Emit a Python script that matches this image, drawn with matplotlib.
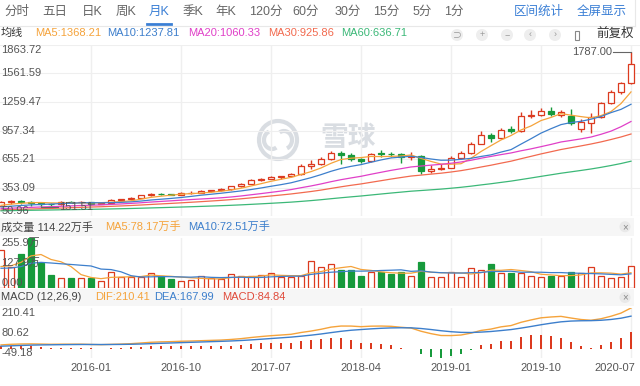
import matplotlib
matplotlib.use('Agg')
import matplotlib.pyplot as plt
import matplotlib.transforms as mtransforms
from matplotlib.patches import Rectangle, Circle, Arc
import numpy as np
import pandas as pd

plt.rcParams['font.family'] = ['Liberation Sans', 'Noto Sans CJK SC', 'DejaVu Sans']

# ---------------------------------------------------------------------------
# Data: monthly K line, forward adjusted (前复权), 2015-04 .. 2020-07
# ---------------------------------------------------------------------------
months = pd.period_range('2015-04', '2020-07', freq='M').strftime('%Y-%m').tolist()

opens = [165, 200, 208, 200, 195, 181, 179, 200, 197, 202,
         186, 189, 224, 229, 245, 271, 288, 283, 281, 300,
         301, 316, 326, 335, 366, 394, 434, 448, 462, 472,
         495, 585, 600, 655, 719, 695, 655, 633, 718, 712,
         706, 673, 690, 532, 552, 566, 665, 716, 820, 905,
         875, 970, 950, 1115, 1122, 1160, 1125, 1110, 970, 1040,
         1095, 1250, 1360, 1460]
highs = [210, 220, 225, 215, 200, 190, 208, 210, 210, 205,
         195, 230, 235, 250, 275, 300, 295, 290, 305, 320,
         325, 330, 345, 370, 400, 440, 460, 480, 480, 510,
         600, 650, 680, 740, 745, 720, 670, 720, 755, 735,
         720, 725, 700, 590, 600, 690, 740, 840, 950, 930,
         985, 1000, 1150, 1175, 1190, 1205, 1175, 1180, 1080, 1142,
         1260, 1390, 1470, 1787.00]
lows = [160, 185, 180, 160, 151.51, 165, 175, 190, 192, 170,
        182, 188, 215, 224, 240, 268, 275, 272, 278, 290,
        295, 310, 322, 330, 360, 390, 425, 440, 450, 465,
        490, 555, 590, 650, 600, 640, 615, 625, 675, 680,
        615, 645, 496, 505, 540, 560, 660, 705, 810, 835,
        870, 935, 945, 1085, 1110, 1110, 1105, 1020, 945, 931,
        1085, 1235, 1340, 1450]
closes = [200, 208, 200, 195, 181, 179, 200, 197, 202, 186,
          189, 224, 229, 245, 271, 288, 283, 281, 300, 301,
          316, 326, 335, 366, 394, 434, 448, 462, 472, 495,
          585, 600, 655, 719, 695, 655, 633, 714, 712, 706,
          673, 690, 532, 553, 566, 665, 716, 820, 910, 875,
          965, 950, 1115, 1122, 1160, 1130, 1150, 1035, 1045, 1095,
          1250, 1360, 1460, 1660]
volumes = [194, 109, 172, 255.9, 126, 67, 50, 50, 50, 53,
           36, 83, 58, 58, 58, 75, 63, 45, 37, 41,
           61, 50, 45, 70, 63, 61, 67, 75, 58, 55,
           61, 140, 106, 121, 92, 92, 63, 83, 83, 70,
           80, 63, 132, 58, 58, 80, 58, 104, 92, 121,
           78, 78, 78, 63, 55, 60, 60, 80, 79, 108,
           62, 52, 55, 114.22]  # 万手

# closes / volumes before 2015-04, only used to warm up the MA and MACD lines
pre_closes = [82, 80, 85, 88, 86, 92, 90, 88,
              86, 88, 92, 95, 98, 100, 102, 104, 100, 103, 105, 104,
              106, 110, 112, 115, 114, 118, 120, 116, 118, 116,
              98, 92, 88, 86, 85, 84, 86, 88, 90, 93,
              100, 104, 108, 110, 112, 114, 116, 118, 122, 124,
              126, 128, 130, 135, 140, 148, 156, 162, 170]
pre_volumes = [95, 100, 85, 80, 100, 90, 85, 90, 91]

price_ticks = [50.96, 353.09, 655.21, 957.34, 1259.47, 1561.59, 1863.72]
vol_ticks = [0, 127.9, 255.9]
vol_tick_labels = ['0.00', '127.9万', '255.9万']
macd_ticks = [-49.18, 80.62, 210.41]
date_ticks = ['2016-01', '2016-10', '2017-07', '2018-04', '2019-01', '2019-10', '2020-07']

tabs = ['分时', '五日', '日K', '周K', '月K', '季K', '年K', '120分', '60分', '30分', '15分', '5分', '1分']
tab_x = [17, 55, 92, 126, 159, 193, 226, 266, 306, 348, 386, 422, 454]

# ---------------------------------------------------------------------------
# Styling
# ---------------------------------------------------------------------------
RED = '#dc3a1f'
GREEN = '#179a3c'
GRAY = '#555555'
BLUE_UI = '#3a7fd5'
GRID = '#efefef'
MA_COLORS = {5: '#f5a33b', 10: '#3d7fcc', 20: '#e040c8', 30: '#f26a4f', 60: '#3cb878'}
W, H = 640, 386

fig = plt.figure(figsize=(W / 100, H / 100), dpi=100)


def px_axes(x0, y0, x1, y1, **kw):
    return fig.add_axes([x0 / W, 1 - y1 / H, (x1 - x0) / W, (y1 - y0) / H], **kw)


ov = px_axes(0, 0, W, H, zorder=-1)
ov.set_xlim(0, W)
ov.set_ylim(H, 0)
ov.axis('off')

ax_p = px_axes(0, 44.7, W, 216.3)
ax_v = px_axes(0, 238, W, 288)
ax_m = px_axes(0, 308, W, 358)

n = len(closes)
x = np.arange(n)
o, h, l, c = (np.array(a, dtype=float) for a in (opens, highs, lows, closes))
up = c >= o
tick_idx = [months.index(d) for d in date_ticks]

for ax in (ax_p, ax_v, ax_m):
    ax.set_xlim(-0.1, n - 0.1)
    ax.set_facecolor('none')
    ax.axis('off')
    for i in tick_idx:
        ax.axvline(i, color=GRID, lw=1, zorder=0)


def ylabels(ax, ticks, labels):
    lo, hi = ax.get_ylim()
    trans = mtransforms.blended_transform_factory(ax.transAxes, ax.transData)
    for v, s in zip(ticks, labels):
        va = 'top' if v == hi else ('bottom' if v == lo else 'center')
        ax.text(0.002, v, s, transform=trans, ha='left', va=va,
                fontsize=8, color=GRAY, zorder=6)


# --- price panel ---
ax_p.set_ylim(price_ticks[0], price_ticks[-1])
for v in price_ticks:
    ax_p.axhline(v, color=GRID, lw=0.8, zorder=0)

top = np.maximum(o, c)
bot = np.minimum(o, c)
ax_p.vlines(x[up], l[up], bot[up], color=RED, lw=1, zorder=2)
ax_p.vlines(x[up], top[up], h[up], color=RED, lw=1, zorder=2)
ax_p.vlines(x[~up], l[~up], h[~up], color=GREEN, lw=1, zorder=2)
ax_p.bar(x, top - bot, bottom=bot, width=0.62,
         color=['white' if u else GREEN for u in up],
         edgecolor=[RED if u else GREEN for u in up], lw=0.9, zorder=2)

full_close = pd.Series(pre_closes + closes, dtype=float)
for k, col in MA_COLORS.items():
    ma = full_close.rolling(k).mean().to_numpy()[-n:]
    ax_p.plot(x, ma, color=col, lw=0.9, zorder=3)

imax = int(np.argmax(h))
ax_p.plot([imax - 1.8, imax], [h[imax], h[imax]], color='#666666', lw=0.8, zorder=4)
ax_p.text(imax - 1.9, h[imax], f'{h[imax]:.2f}', ha='right', va='center',
          fontsize=8, color=GRAY, zorder=6)
imin = int(np.argmin(l))
ax_p.plot([imin, imin + 1.7], [l[imin], l[imin]], color='#666666', lw=0.8, zorder=4)
ax_p.text(imin + 1.8, l[imin], f'{l[imin]:.2f}', ha='left', va='center',
          fontsize=8, color=GRAY, zorder=6)
ylabels(ax_p, price_ticks, [f'{v:.2f}' for v in price_ticks])

# --- volume panel ---
ax_v.set_ylim(vol_ticks[0], vol_ticks[-1])
ax_v.bar(x, volumes, width=0.62,
         color=['white' if u else GREEN for u in up],
         edgecolor=[RED if u else GREEN for u in up], lw=0.9, zorder=2)
full_vol = pd.Series(pre_volumes + volumes, dtype=float)
for k in (5, 10):
    ax_v.plot(x, full_vol.rolling(k).mean().to_numpy()[-n:],
              color=MA_COLORS[k], lw=0.9, zorder=3)
ylabels(ax_v, vol_ticks, vol_tick_labels)

# --- MACD panel ---
ema12 = full_close.ewm(span=12, adjust=False).mean()
ema26 = full_close.ewm(span=26, adjust=False).mean()
dif = (ema12 - ema26)
dea = dif.ewm(span=9, adjust=False).mean()
hist = (2 * (dif - dea)).to_numpy()[-n:]
dif = dif.to_numpy()[-n:]
dea = dea.to_numpy()[-n:]
ax_m.set_ylim(macd_ticks[0], macd_ticks[-1])
ax_m.bar(x, hist, width=0.16, color=[RED if v >= 0 else GREEN for v in hist], zorder=2)
ax_m.plot(x, dif, color=MA_COLORS[5], lw=1, zorder=3)
ax_m.plot(x, dea, color=MA_COLORS[10], lw=1, zorder=3)
ylabels(ax_m, macd_ticks, [f'{v:.2f}' for v in macd_ticks])

date_trans = mtransforms.blended_transform_factory(ax_m.transData, ax_m.transAxes)
for i, d in zip(tick_idx, date_ticks):
    last = i == n - 1
    ax_m.text(i + (0.45 if last else 0), -0.2, d, transform=date_trans,
              ha='right' if last else 'center', va='center', fontsize=8, color=GRAY)

# ---------------------------------------------------------------------------
# Header rows, panel bands and watermark (pixel coordinates)
# ---------------------------------------------------------------------------
for t, tx in zip(tabs, tab_x):
    ov.text(tx, 12, t, ha='center', va='center', fontsize=9,
            color=BLUE_UI if t == '月K' else '#666666')
ov.plot([147, 171], [23.5, 23.5], color=BLUE_UI, lw=2)
ov.plot([0, 635], [25.5, 25.5], color='#e8e8e8', lw=0.8)
ov.plot([635, 635], [0, 25.5], color='#e8e8e8', lw=0.8)
ov.text(539, 12, '区间统计', ha='center', va='center', fontsize=9, color=BLUE_UI)
ov.text(602, 12, '全屏显示', ha='center', va='center', fontsize=9, color=BLUE_UI)

ov.text(1, 33, '均线', ha='left', va='center', fontsize=8, color='#333333')
ma_text = [('MA5:1368.21', 35, 5), ('MA10:1237.81', 107, 10), ('MA20:1060.33', 188, 20),
           ('MA30:925.86', 268, 30), ('MA60:636.71', 341, 60)]
for s, tx, k in ma_text:
    ov.text(tx, 33, s, ha='left', va='center', fontsize=8, color=MA_COLORS[k])

for cx, sym in zip([457, 482, 507, 530, 555], ['⊃', '+', '−', '‹', '›']):
    ov.add_patch(Circle((cx, 35), 6, facecolor='#eeeeee', edgecolor='none'))
    ov.text(cx, 35, sym, ha='center', va='center', fontsize=6.5, color='#999999')
ov.add_patch(Rectangle((575, 30.5), 4, 9, facecolor='none', edgecolor='#888888', lw=0.8))
ov.text(596, 34, '前复权', ha='left', va='center', fontsize=9, color='#333333')

for y0, y1 in [(217.5, 236), (289, 306)]:
    ov.add_patch(Rectangle((0, y0), 634, y1 - y0, facecolor='#f6f6f6', edgecolor='none'))
    ov.add_patch(Circle((625, (y0 + y1) / 2), 5.5, facecolor='#e9e9e9', edgecolor='none'))
    ov.text(625, (y0 + y1) / 2, '×', ha='center', va='center', fontsize=7, color='#888888')

ov.text(1, 227, '成交量 114.22万手', ha='left', va='center', fontsize=8, color='#444444')
ov.text(105, 227, 'MA5:78.17万手', ha='left', va='center', fontsize=8, color=MA_COLORS[5])
ov.text(188, 227, 'MA10:72.51万手', ha='left', va='center', fontsize=8, color=MA_COLORS[10])

ov.text(1, 297, 'MACD (12,26,9)', ha='left', va='center', fontsize=8, color='#444444')
ov.text(95, 297, 'DIF:210.41', ha='left', va='center', fontsize=8, color=MA_COLORS[5])
ov.text(154, 297, 'DEA:167.99', ha='left', va='center', fontsize=8, color=MA_COLORS[10])
ov.text(222, 297, 'MACD:84.84', ha='left', va='center', fontsize=8, color='#e04a3a')

WM = '#d9dde2'
ov.add_patch(Circle((278, 140), 19, fill=False, edgecolor=WM, lw=3))
ov.add_patch(Arc((272, 140), 16, 18, theta1=60, theta2=250, edgecolor=WM, lw=3))
ov.add_patch(Arc((284, 140), 16, 18, theta1=240, theta2=430, edgecolor=WM, lw=3))
ov.text(348, 138, '雪球', ha='center', va='center', fontsize=20, color=WM,
        fontweight='bold', family=['Noto Sans CJK SC'])

fig.savefig('out.png', dpi=100)
